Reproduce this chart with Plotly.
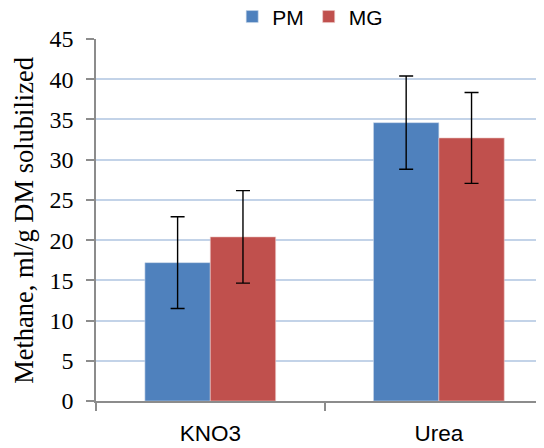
import plotly.graph_objects as go

categories = ["KNO3", "Urea"]
pm_values = [17.2, 34.6]
pm_errors = [5.7, 5.8]
mg_values = [20.4, 32.7]
mg_errors = [5.75, 5.65]
y_ticks = [0, 5, 10, 15, 20, 25, 30, 35, 40, 45]
y_title = "Methane, ml/g DM solubilized"

fig = go.Figure()
fig.add_trace(go.Bar(
    name="PM", x=categories, y=pm_values,
    marker=dict(color="#4f81bd", line=dict(color="#c9d7ea", width=0.6)),
    error_y=dict(type="data", array=pm_errors, visible=True, color="black", thickness=1.4, width=7),
))
fig.add_trace(go.Bar(
    name="MG", x=categories, y=mg_values,
    marker=dict(color="#c0504d", line=dict(color="#ecc9c8", width=0.6)),
    error_y=dict(type="data", array=mg_errors, visible=True, color="black", thickness=1.4, width=7),
))

fig.add_annotation(
    text=y_title, xref="paper", yref="paper", x=-0.161, y=0.5,
    xanchor="center", yanchor="middle", textangle=-90, showarrow=False,
    font=dict(family="Liberation Serif", size=26.5, color="black"),
)

fig.update_layout(
    width=544, height=448,
    margin=dict(l=88, r=8, t=31, b=55, autoexpand=False),
    paper_bgcolor="white", plot_bgcolor="white",
    barmode="group", bargap=0.428, bargroupgap=0,
    showlegend=True,
    legend=dict(orientation="h", x=0.304, xanchor="left", y=1.061, yanchor="middle",
                font=dict(family="Liberation Sans", size=21, color="black"),
                bgcolor="rgba(0,0,0,0)", traceorder="normal"),
    xaxis=dict(
        type="category", range=[-0.5, 1.46], automargin=False,
        showline=True, linecolor="#8c8c8c", linewidth=1.5,
        ticks="outside", tickson="boundaries", ticklen=8, tickcolor="#8c8c8c", tickwidth=1.5,
        showgrid=False, ticklabelstandoff=11,
        tickfont=dict(family="Liberation Sans", size=22.5, color="black"),
    ),
    yaxis=dict(
        range=[0, 45], tickvals=y_ticks, automargin=False,
        showline=True, linecolor="#8c8c8c", linewidth=1.5,
        ticks="outside", ticklen=8, tickcolor="#8c8c8c", tickwidth=1.5,
        showgrid=True, gridcolor="#c3d3e8", gridwidth=1.5,
        zeroline=False,
        tickfont=dict(family="Liberation Serif", size=24, color="black"),
        ticklabelstandoff=8,
    ),
)

fig.write_html("out.html")
